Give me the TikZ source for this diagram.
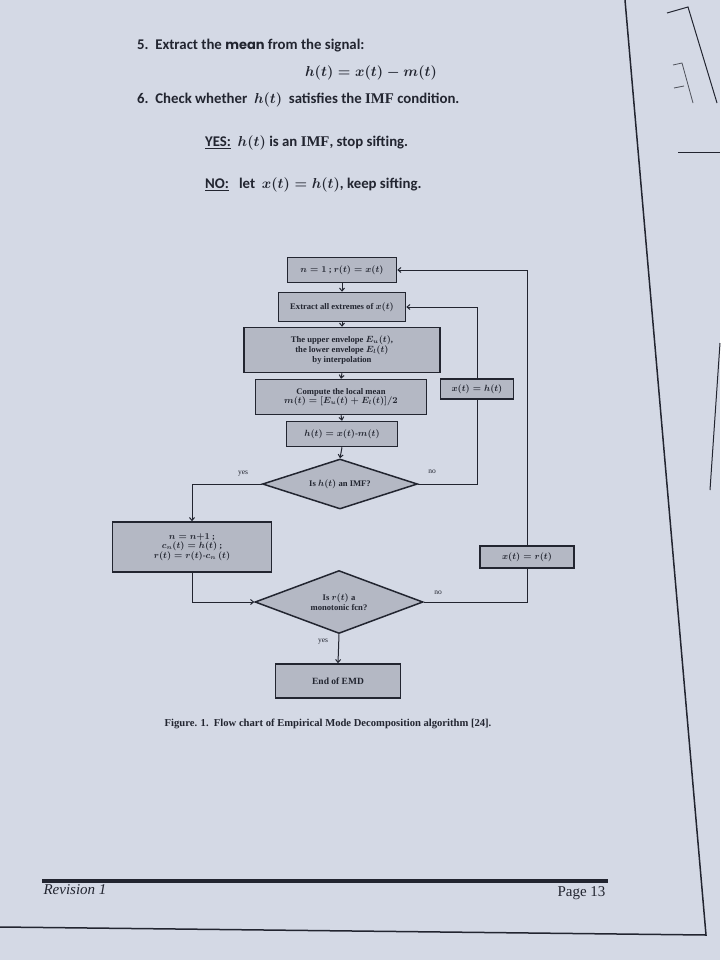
\documentclass[tikz,border=0pt]{standalone}
\usepackage{fontspec}
\setmainfont{Carlito}
\newfontfamily\chartfont{Liberation Serif}
\newfontfamily\geofont{Poppins}
\usepackage{tikz}
\usetikzlibrary{arrows.meta,shapes.geometric,calc}

\definecolor{paper}{RGB}{212,217,229}
\definecolor{boxgray}{RGB}{180,184,196}
\definecolor{ink}{RGB}{34,37,48}

\newcommand{\imfword}{{\chartfont\bfseries IMF}}

\tikzset{
	flowbox/.style={draw=ink, line width=1.5pt, fill=boxgray, inner sep=1pt, align=center, text=ink, font=\chartfont\bfseries\boldmath\fontsize{8.6}{9.6}\selectfont},
	decide/.style={diamond, aspect=2.7, draw=ink, line width=1.5pt, fill=boxgray, inner sep=0pt, align=center, text=ink, font=\chartfont\bfseries\boldmath\fontsize{8.6}{9.6}\selectfont},
	flow/.style={draw=ink, line width=1pt},
	flowarrow/.style={-{Straight Barb[length=3pt,width=5pt]}},
	tag/.style={font=\chartfont\fontsize{7.5}{8}\selectfont, text=ink},
	bodytext/.style={anchor=west, inner sep=0pt, text=ink, font=\bfseries\boldmath\fontsize{14.8}{17}\selectfont},
}

\begin{document}
\begin{tikzpicture}[x=1pt,y=-1pt]

	\useasboundingbox[fill=paper] (0,0) rectangle (720,960);

	% text of the page
	\node[bodytext] (step5) at (137,46) {5.\ \ Extract the {\geofont\bfseries\fontsize{13}{15}\selectfont mean} from the signal:};
	\node[inner sep=0pt, text=ink, font=\boldmath\fontsize{15}{17}\selectfont] (eqh) at (371,73) {$h(t)=x(t)-m(t)$};
	\node[bodytext] (step6) at (137,100) {6.\ \ Check whether \ $h(t)$ \ satisfies the \imfword\ condition.};
	\node[bodytext] (yesline) at (205,143) {\underline{YES:}\ \ $h(t)$ is an \imfword, stop sifting.};
	\node[bodytext] (noline) at (205,185) {\underline{NO:}\ \ \ let \ $x(t)=h(t)$, keep sifting.};

	% flow chart
	\node[flowbox, minimum width=109pt, minimum height=25pt] (init) at (342,270) {$n=1$ ; $r(t)=x(t)$};
	\node[flowbox, minimum width=127pt, minimum height=29pt] (extrema) at (342,307) {Extract all extremes of $x(t)$};
	\node[flowbox, minimum width=196pt, minimum height=45pt] (envelope) at (342,350) {The upper envelope $E_u(t)$,\\the lower envelope $E_l(t)$\\by interpolation};
	\node[flowbox, minimum width=171pt, minimum height=35pt] (localmean) at (341,397) {Compute the local mean\\$m(t)=[E_u(t)+E_l(t)]/2$};
	\node[flowbox, minimum width=111pt, minimum height=25pt] (hcalc) at (342,434) {$h(t)=x(t)$-$m(t)$};
	\node[decide, minimum width=155pt, minimum height=50pt] (isimf) at (340,484) {Is $h(t)$ an IMF?};
	\node[flowbox, minimum width=73pt, minimum height=20pt] (xtoh) at (477,389) {$x(t)=h(t)$};
	\node[flowbox, minimum width=159pt, minimum height=50pt] (update) at (192,547) {$n=n{+}1$ ;\\$c_n(t)=h(t)$ ;\\$r(t)=r(t)$-$c_n\,(t)$};
	\node[flowbox, minimum width=94pt, minimum height=22pt] (xtor) at (527,557) {$x(t)=r(t)$};
	\node[decide, minimum width=168pt, minimum height=63pt] (ismono) at (339,602) {Is $r(t)$ a\\monotonic fcn?};
	\node[flowbox, minimum width=125pt, minimum height=34pt, font=\chartfont\bfseries\fontsize{9.5}{11}\selectfont] (endemd) at (338,681) {End of EMD};

	\draw[flow,flowarrow] (init.south) -- (extrema.north);
	\draw[flow,flowarrow] (extrema.south) -- (envelope.north);
	\draw[flow,flowarrow] (envelope.south) -- (localmean.north);
	\draw[flow,flowarrow] (localmean.south) -- (hcalc.north);
	\draw[flow,flowarrow] (hcalc.south) -- (isimf.north);
	\draw[flow,flowarrow] (isimf.west) -| (update.north);
	\draw[flow] (isimf.east) -| (xtoh.south);
	\draw[flow,flowarrow] (xtoh.north) |- (extrema.east);
	\draw[flow,flowarrow] (update.south) |- (ismono.west);
	\draw[flow] (ismono.east) -| (xtor.south);
	\draw[flow,flowarrow] (xtor.north) |- (init.east);
	\draw[flow,flowarrow] (ismono.south) -- (endemd.north);

	\node[tag] (yesimf) at (243,474) {yes};
	\node[tag] (noimf) at (432,472) {no};
	\node[tag] (nomono) at (438,593) {no};
	\node[tag] (yesmono) at (323,642) {yes};

	\node[text=ink, font=\chartfont\bfseries\fontsize{10.6}{12}\selectfont] (caption) at (328,724) {Figure. 1.\ \ Flow chart of Empirical Mode Decomposition algorithm [24].};

	% footer
	\draw[ink, line width=4pt] (42,881) -- (608,881);
	\node[anchor=west, text=ink, font=\chartfont\itshape\fontsize{15}{17}\selectfont] (revision) at (40,890) {Revision 1};
	\node[anchor=east, text=ink, font=\chartfont\fontsize{15}{17}\selectfont] (pagenum) at (609,893) {Page 13};

	% page edges
	\draw[ink, line width=1.5pt] (0,927) -- (706,935) -- (625,0);
	\draw[ink, line width=1pt] (667,13) -- (688,7) -- (717,103);
	\draw[ink!80, line width=0.8pt] (673,65) -- (682,63) -- (693,103);
	\draw[ink!80, line width=0.8pt] (674,88) -- (684,86);
	\draw[ink, line width=1pt] (678,153) -- (720,153);
	\draw[ink, line width=1pt] (720,343) -- (710,490);

\end{tikzpicture}
\end{document}
